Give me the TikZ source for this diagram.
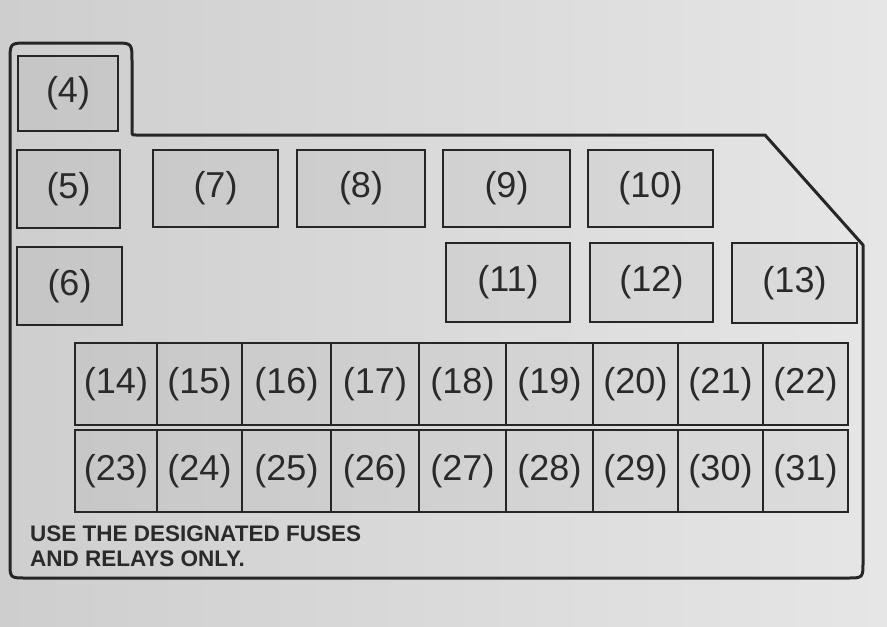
\documentclass[tikz,border=0pt]{standalone}
\usepackage{fontspec}
\setmainfont{Liberation Sans}
\definecolor{paperL}{RGB}{206,206,206}
\definecolor{paperR}{RGB}{230,230,230}
\definecolor{ink}{RGB}{38,38,38}
\definecolor{txt}{RGB}{42,42,42}
\tikzset{
  fusebox/.style={draw=ink, line width=2.4pt, fill=black, fill opacity=0.04, text opacity=1,
    text=txt, inner sep=0pt, font=\fontsize{36}{38}\selectfont},
  outline/.style={draw=ink, line width=3pt, line join=round},
  note/.style={text=txt, inner sep=0pt, anchor=base west, font=\bfseries\fontsize{22.5}{24}\selectfont}
}
\begin{document}
\begin{tikzpicture}[x=1pt,y=-1pt]
\useasboundingbox (0,0) rectangle (887,627);
\shade[left color=paperL, right color=paperR] (0,0) rectangle (887,627);
% housing outline
\draw[outline] (28,43) -- (114,43) .. controls (132,43) .. (132,61) -- (132,131)
  .. controls (132,135) .. (136,135) -- (765,135) -- (863,245) -- (863,562)
  .. controls (863,578) .. (847,578) -- (26,578) .. controls (10,578) .. (10,562)
  -- (10,61) .. controls (10,43) .. (28,43) -- cycle;
% upper boxes
\node[fusebox, minimum width=100pt, minimum height=75pt] (b4) at (68,93.5) {(4)};
\node[fusebox, minimum width=103pt, minimum height=78pt] (b5) at (68.5,189) {(5)};
\node[fusebox, minimum width=105pt, minimum height=78pt] (b6) at (69.5,286) {(6)};
\node[fusebox, minimum width=125pt, minimum height=77pt] (b7) at (215.5,188.5) {(7)};
\node[fusebox, minimum width=128pt, minimum height=77pt] (b8) at (361,188.5) {(8)};
\node[fusebox, minimum width=127pt, minimum height=77pt] (b9) at (506.5,188.5) {(9)};
\node[fusebox, minimum width=125pt, minimum height=77pt] (b10) at (650.5,188.5) {(10)};
\node[fusebox, minimum width=124pt, minimum height=79pt] (b11) at (508,282.5) {(11)};
\node[fusebox, minimum width=123pt, minimum height=79pt] (b12) at (651.5,282.5) {(12)};
\node[fusebox, minimum width=125pt, minimum height=80pt] (b13) at (794.5,283) {(13)};
% grid of fuses
\foreach \l/\r [count=\i from 0] in {75/157,157/242,242/331,331/419,419/506,506/593,593/678,678/763,763/848}{
  \pgfmathtruncatemacro{\na}{14+\i}
  \pgfmathtruncatemacro{\nb}{23+\i}
  \pgfmathsetmacro{\cx}{(\l+\r)/2}
  \pgfmathsetmacro{\w}{\r-\l}
  \node[fusebox, minimum width=\w pt, minimum height=82pt] (b\na) at (\cx,384) {(\na)};
  \node[fusebox, minimum width=\w pt, minimum height=82pt] (b\nb) at (\cx,471) {(\nb)};
}
% note
\node[note] (n1) at (30,541) {USE THE DESIGNATED FUSES};
\node[note] (n2) at (30,566) {AND RELAYS ONLY.};
\end{tikzpicture}
\end{document}
